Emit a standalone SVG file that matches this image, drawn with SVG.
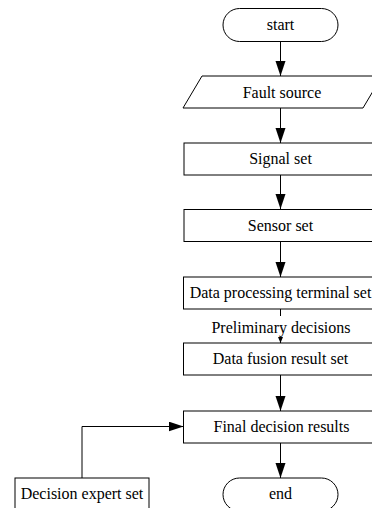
<svg xmlns="http://www.w3.org/2000/svg" width="372" height="508" viewBox="0 0 372 508">
  <defs>
    <style>
      .shape { fill: #ffffff; stroke: #000000; stroke-width: 1; }
      .edge { fill: none; stroke: #000000; stroke-width: 1; }
      .label { font-family: "Liberation Serif", "Times New Roman", serif; font-size: 16px; fill: #000000; text-anchor: middle; }
    </style>
    <marker id="arrow" markerUnits="userSpaceOnUse" markerWidth="16" markerHeight="12" refX="15" refY="5" orient="auto">
      <path d="M0,0 L15,5 L0,10 Z" fill="#000000"/>
    </marker>
    <marker id="arrow-small" markerUnits="userSpaceOnUse" markerWidth="8" markerHeight="6" refX="6" refY="2.5" orient="auto">
      <path d="M0,0 L6,2.5 L0,5 Z" fill="#000000"/>
    </marker>
  </defs>
  <rect width="372" height="508" fill="#ffffff"/>

  <!-- connectors -->
  <g id="connectors">
    <line class="edge" x1="280.5" y1="41" x2="280.5" y2="76" marker-end="url(#arrow)"/>
    <line class="edge" x1="280.5" y1="108" x2="280.5" y2="143" marker-end="url(#arrow)"/>
    <line class="edge" x1="280.5" y1="175" x2="280.5" y2="209" marker-end="url(#arrow)"/>
    <line class="edge" x1="280.5" y1="242" x2="280.5" y2="277" marker-end="url(#arrow)"/>
    <line class="edge" x1="280.5" y1="309" x2="280.5" y2="316"/>
    <line class="edge" x1="280.5" y1="337" x2="280.5" y2="343" marker-end="url(#arrow-small)"/>
    <line class="edge" x1="280.5" y1="375" x2="280.5" y2="411" marker-end="url(#arrow)"/>
    <line class="edge" x1="280.5" y1="443" x2="280.5" y2="478" marker-end="url(#arrow)"/>
    <polyline class="edge" points="82,478 82,426.5 183.5,426.5" marker-end="url(#arrow)"/>
    <text class="label" x="281" y="333">Preliminary decisions</text>
  </g>

  <g id="start">
    <rect class="shape" x="223" y="8.5" width="115" height="33" rx="16.5"/>
    <text class="label" x="280.5" y="30">start</text>
  </g>

  <g id="fault-source">
    <polygon class="shape" points="202,76 382,76 363,108 183,108"/>
    <text class="label" x="282" y="97.5">Fault source</text>
  </g>

  <g id="signal-set">
    <rect class="shape" x="184" y="143" width="193" height="32"/>
    <text class="label" x="280.5" y="164">Signal set</text>
  </g>

  <g id="sensor-set">
    <rect class="shape" x="184" y="209.5" width="193" height="32"/>
    <text class="label" x="280.5" y="231">Sensor set</text>
  </g>

  <g id="data-processing">
    <rect class="shape" x="183.5" y="277" width="193" height="32"/>
    <text class="label" x="280.5" y="298">Data processing terminal set</text>
  </g>

  <g id="data-fusion">
    <rect class="shape" x="183.5" y="343" width="193" height="32"/>
    <text class="label" x="280.5" y="364">Data fusion result set</text>
  </g>

  <g id="final-decision">
    <rect class="shape" x="183.5" y="411" width="193" height="32"/>
    <text class="label" x="281.5" y="432">Final decision results</text>
  </g>

  <g id="decision-expert">
    <rect class="shape" x="15" y="478" width="134" height="40"/>
    <text class="label" x="82" y="499">Decision expert set</text>
  </g>

  <g id="end">
    <rect class="shape" x="223" y="478" width="115" height="33" rx="16.5"/>
    <text class="label" x="280.5" y="499">end</text>
  </g>
</svg>
